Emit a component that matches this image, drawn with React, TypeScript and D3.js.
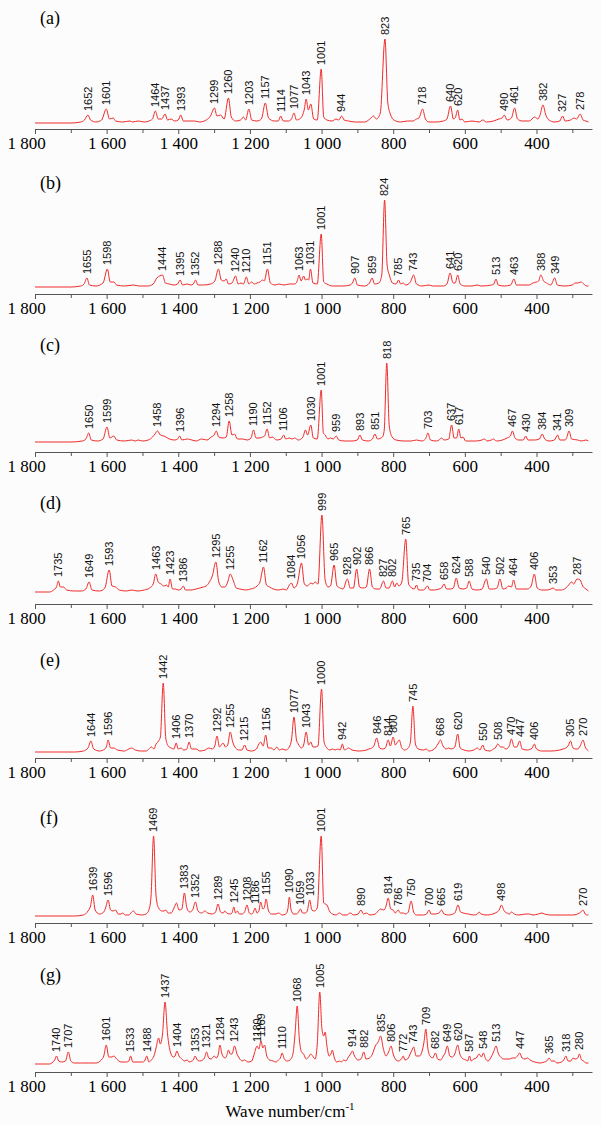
import React, { useRef, useEffect } from 'react';
import * as d3 from 'd3';

// Raman spectra (a)–(g): [wave number, relative intensity]
const specA: [number, number][] = [
  [1800,0],[1700,0],[1672,1],[1662,3],[1652,8],[1645,3],[1630,1],[1614,3],[1601,14],[1592,4],[1582,5],[1575,2],[1555,1],[1535,2],[1528,1],[1512,2],[1495,1],[1482,2],[1472,4],[1464,12],[1456,4],[1446,4],[1437,9],[1430,3],[1420,4],[1410,2],[1400,3],[1393,8],[1386,2],[1370,2],[1355,2],[1340,1],[1322,3],[1310,7],[1299,15],[1292,7],[1282,8],[1272,4],[1260,25],[1252,6],[1240,2],[1226,3],[1218,6],[1212,3],[1203,14],[1195,3],[1180,2],[1168,4],[1157,20],[1148,5],[1132,2],[1121,2],[1114,7],[1107,2],[1092,2],[1084,4],[1077,10],[1070,3],[1058,5],[1048,14],[1043,24],[1037,13],[1030,19],[1022,4],[1012,3],[1001,54],[994,6],[985,3],[970,2],[960,4],[952,3],[944,7],[937,3],[925,2],[905,1],[880,1],[865,4],[855,7],[847,4],[836,10],[823,84],[815,20],[808,9],[798,3],[780,1],[760,2],[745,2],[735,4],[728,5],[718,14],[710,4],[700,1],[680,1],[660,2],[650,4],[640,17],[632,4],[627,5],[620,13],[614,3],[608,4],[600,1],[580,2],[560,1],[550,3],[540,1],[520,2],[505,4],[496,5],[490,8],[482,3],[470,5],[461,15],[453,4],[440,2],[420,2],[405,6],[396,4],[390,8],[382,18],[374,8],[365,3],[350,1],[335,2],[327,7],[320,2],[305,3],[295,5],[288,4],[278,9],[270,3],[262,2],[255,1],
];
const specB: [number, number][] = [
  [1800,0],[1700,0],[1672,1],[1663,3],[1655,9],[1648,2],[1630,1],[1610,4],[1598,18],[1590,5],[1580,5],[1572,2],[1550,1],[1525,2],[1510,1],[1485,1],[1470,3],[1460,9],[1452,11],[1444,12],[1436,4],[1425,3],[1412,2],[1402,3],[1395,7],[1388,2],[1375,3],[1365,2],[1358,3],[1352,7],[1345,2],[1330,2],[1310,3],[1298,6],[1288,18],[1280,7],[1272,6],[1266,8],[1260,3],[1250,4],[1240,11],[1233,3],[1225,4],[1218,3],[1210,10],[1203,3],[1195,5],[1188,3],[1180,4],[1172,5],[1165,7],[1160,6],[1151,18],[1143,4],[1130,2],[1120,3],[1105,2],[1090,3],[1075,3],[1068,6],[1063,12],[1057,6],[1050,11],[1045,7],[1040,8],[1036,7],[1031,18],[1024,4],[1012,3],[1001,53],[994,5],[985,3],[970,1],[940,1],[920,2],[914,4],[907,9],[900,2],[880,1],[866,4],[859,9],[852,3],[840,4],[832,12],[824,87],[817,22],[810,11],[802,4],[792,3],[785,7],[779,3],[773,4],[765,2],[752,5],[743,12],[735,3],[720,1],[700,2],[690,1],[660,1],[650,3],[641,14],[633,4],[627,4],[620,12],[613,3],[600,1],[580,1],[565,2],[555,1],[525,2],[519,3],[513,8],[507,2],[490,1],[472,2],[463,8],[456,2],[440,2],[420,2],[410,4],[400,5],[394,6],[388,12],[380,6],[372,4],[360,2],[349,9],[342,2],[320,1],[300,2],[292,4],[285,4],[275,5],[268,3],[260,1],[255,1],
];
const specC: [number, number][] = [
  [1800,0],[1700,0],[1668,1],[1658,3],[1650,9],[1643,2],[1625,1],[1610,3],[1599,15],[1591,4],[1580,6],[1572,2],[1550,1],[1530,2],[1520,1],[1512,2],[1500,1],[1484,2],[1472,5],[1465,8],[1458,11],[1450,7],[1440,6],[1425,3],[1410,2],[1402,3],[1396,6],[1390,2],[1375,3],[1362,2],[1350,1],[1335,3],[1320,2],[1308,5],[1300,7],[1294,11],[1287,5],[1275,4],[1266,5],[1258,21],[1250,7],[1243,8],[1235,3],[1220,3],[1208,2],[1197,4],[1190,12],[1183,4],[1172,4],[1165,5],[1159,6],[1152,13],[1145,4],[1138,5],[1125,2],[1113,3],[1106,7],[1100,3],[1090,4],[1082,3],[1075,4],[1065,2],[1052,5],[1045,12],[1039,7],[1030,17],[1023,4],[1012,3],[1001,52],[995,9],[990,7],[982,3],[975,4],[967,3],[959,6],[952,2],[935,1],[915,1],[900,2],[893,7],[886,2],[870,1],[858,3],[851,8],[844,3],[830,5],[825,12],[818,79],[811,16],[803,5],[792,2],[770,1],[750,1],[735,2],[720,1],[710,3],[703,9],[696,2],[680,1],[672,2],[665,4],[658,2],[645,3],[637,17],[630,4],[623,4],[617,13],[611,4],[605,5],[598,1],[570,1],[552,2],[545,3],[538,1],[526,2],[520,3],[512,1],[495,2],[482,4],[473,6],[467,11],[460,4],[450,2],[437,2],[430,6],[424,2],[405,2],[392,3],[384,8],[377,3],[365,1],[350,2],[341,7],[335,2],[320,2],[316,4],[309,11],[302,3],[285,2],[275,1],[262,2],[255,1],
];
const specD: [number, number][] = [
  [1800,0],[1760,0],[1748,2],[1740,5],[1735,11],[1729,5],[1720,5],[1712,2],[1690,1],[1670,1],[1658,3],[1649,10],[1641,2],[1620,1],[1605,4],[1593,22],[1585,6],[1575,5],[1565,2],[1545,1],[1530,2],[1515,1],[1495,2],[1480,4],[1470,8],[1463,18],[1456,10],[1448,8],[1440,6],[1433,7],[1428,5],[1423,13],[1416,3],[1408,3],[1400,2],[1392,3],[1386,6],[1380,2],[1365,2],[1350,3],[1340,4],[1330,5],[1322,6],[1313,10],[1305,16],[1295,30],[1287,10],[1278,5],[1270,5],[1262,10],[1255,18],[1247,12],[1238,4],[1228,3],[1210,2],[1198,3],[1188,4],[1180,6],[1172,10],[1162,25],[1154,7],[1145,5],[1135,3],[1120,2],[1108,3],[1098,2],[1090,7],[1084,9],[1077,4],[1068,8],[1056,29],[1048,8],[1040,6],[1030,9],[1024,8],[1018,10],[1010,8],[999,77],[990,12],[982,5],[975,6],[965,27],[957,6],[948,4],[940,3],[928,13],[920,4],[911,4],[902,23],[894,5],[885,4],[875,5],[866,23],[858,5],[848,3],[838,3],[827,11],[820,4],[812,4],[802,11],[796,5],[790,9],[784,6],[776,10],[765,53],[757,8],[748,4],[741,3],[735,7],[729,2],[715,2],[704,6],[698,2],[685,2],[672,3],[665,4],[658,8],[651,3],[640,3],[632,4],[624,14],[616,4],[605,3],[595,4],[588,11],[580,3],[566,2],[552,3],[540,13],[532,3],[520,3],[510,4],[502,13],[494,3],[484,4],[478,6],[470,5],[464,12],[456,3],[440,3],[425,3],[415,6],[406,18],[398,4],[385,2],[370,2],[360,3],[353,4],[346,2],[330,2],[318,4],[310,7],[302,10],[296,8],[287,13],[278,12],[271,6],[262,3],[255,1],
];
const specE: [number, number][] = [
  [1800,0],[1690,0],[1665,1],[1652,4],[1644,11],[1636,3],[1620,1],[1605,3],[1600,6],[1596,12],[1589,4],[1580,4],[1570,2],[1550,1],[1538,3],[1530,4],[1520,2],[1505,1],[1490,1],[1482,3],[1475,5],[1468,3],[1462,8],[1455,11],[1450,15],[1442,69],[1435,14],[1428,6],[1420,4],[1412,3],[1406,9],[1400,3],[1392,4],[1385,2],[1376,3],[1370,10],[1363,3],[1350,3],[1340,1],[1325,2],[1315,4],[1305,3],[1298,6],[1292,16],[1285,5],[1280,7],[1275,9],[1268,5],[1262,7],[1255,20],[1248,10],[1240,4],[1230,2],[1222,2],[1215,7],[1208,2],[1195,1],[1182,3],[1175,8],[1170,10],[1163,6],[1156,17],[1149,4],[1140,4],[1133,2],[1125,5],[1118,2],[1110,3],[1100,2],[1090,5],[1084,12],[1077,35],[1070,12],[1065,8],[1056,4],[1050,7],[1043,20],[1036,7],[1030,10],[1024,5],[1018,5],[1010,6],[1000,63],[993,10],[985,4],[977,2],[970,3],[962,2],[955,3],[948,2],[942,8],[936,2],[930,3],[925,4],[915,2],[895,1],[875,2],[868,3],[860,4],[854,6],[846,14],[838,4],[830,3],[822,4],[814,12],[808,6],[800,15],[794,7],[788,10],[783,12],[776,4],[768,2],[758,4],[752,10],[745,46],[738,8],[730,3],[715,2],[708,3],[700,1],[685,3],[675,8],[668,12],[661,6],[652,3],[645,4],[638,3],[628,5],[620,18],[613,4],[602,2],[590,1],[575,2],[565,4],[558,2],[550,7],[544,2],[530,1],[520,3],[515,4],[508,8],[500,5],[494,5],[485,3],[476,6],[470,13],[462,5],[455,5],[447,11],[440,3],[425,2],[412,4],[406,8],[400,3],[385,1],[360,1],[335,2],[326,3],[318,4],[312,6],[305,11],[298,4],[290,3],[285,3],[278,6],[270,12],[264,5],[258,2],[255,1],
];
const specF: [number, number][] = [
  [1800,0],[1690,0],[1665,1],[1652,5],[1645,10],[1639,21],[1632,6],[1620,2],[1608,4],[1603,8],[1596,16],[1589,6],[1582,5],[1575,6],[1568,2],[1560,2],[1555,3],[1548,1],[1538,1],[1530,4],[1525,5],[1518,2],[1500,1],[1490,2],[1482,6],[1476,20],[1469,80],[1462,20],[1455,8],[1445,5],[1440,5],[1435,6],[1428,3],[1420,3],[1412,8],[1405,13],[1398,6],[1390,7],[1383,23],[1376,8],[1368,4],[1360,6],[1352,14],[1345,5],[1335,3],[1325,5],[1318,3],[1305,2],[1296,4],[1289,12],[1282,4],[1275,3],[1270,5],[1265,3],[1255,2],[1250,3],[1245,9],[1240,3],[1235,5],[1230,2],[1222,2],[1215,4],[1208,11],[1202,3],[1195,2],[1190,4],[1186,8],[1180,3],[1175,5],[1170,14],[1164,7],[1160,8],[1155,17],[1148,5],[1140,2],[1128,2],[1120,3],[1110,1],[1100,2],[1094,7],[1090,19],[1085,6],[1078,2],[1070,2],[1064,4],[1059,7],[1053,3],[1045,3],[1040,5],[1033,16],[1027,6],[1020,5],[1012,8],[1001,80],[994,13],[985,11],[978,5],[970,2],[960,1],[950,3],[940,1],[930,1],[920,3],[910,1],[898,2],[890,6],[883,2],[875,3],[865,1],[850,2],[842,5],[835,7],[826,6],[820,10],[814,18],[807,7],[800,6],[794,3],[786,6],[780,3],[772,3],[765,2],[758,4],[750,15],[743,4],[735,1],[715,1],[707,2],[700,6],[694,2],[685,2],[672,3],[665,6],[658,2],[645,1],[628,3],[619,11],[612,4],[605,3],[590,2],[575,1],[565,2],[560,4],[555,2],[540,1],[522,2],[510,4],[504,6],[498,11],[490,5],[482,3],[475,2],[470,4],[462,2],[450,1],[430,2],[420,2],[410,1],[395,2],[385,3],[378,2],[360,1],[330,1],[315,1],[300,1],[285,2],[276,4],[270,6],[264,2],[258,1],[255,1],
];
const specG: [number, number][] = [
  [1800,0],[1760,0],[1750,2],[1745,4],[1740,8],[1734,3],[1725,2],[1715,3],[1707,12],[1700,3],[1690,1],[1670,1],[1650,1],[1630,1],[1615,4],[1608,8],[1601,19],[1594,7],[1585,7],[1580,8],[1572,5],[1560,2],[1545,2],[1538,3],[1533,8],[1527,2],[1515,2],[1500,2],[1494,3],[1488,8],[1482,2],[1475,4],[1468,8],[1462,16],[1455,26],[1450,20],[1444,30],[1437,62],[1430,30],[1422,12],[1414,7],[1409,8],[1404,13],[1398,8],[1390,5],[1382,3],[1375,4],[1370,2],[1362,3],[1358,4],[1353,8],[1347,4],[1340,3],[1332,4],[1327,6],[1321,12],[1315,6],[1308,5],[1300,8],[1294,6],[1288,10],[1284,19],[1278,10],[1270,6],[1265,8],[1260,14],[1255,10],[1250,10],[1243,18],[1236,10],[1228,5],[1222,3],[1215,4],[1205,2],[1195,3],[1188,10],[1180,18],[1175,15],[1169,23],[1164,16],[1159,19],[1153,8],[1145,4],[1135,3],[1127,2],[1120,4],[1115,6],[1110,11],[1104,5],[1096,3],[1088,4],[1080,10],[1074,30],[1068,58],[1062,25],[1056,12],[1050,10],[1043,5],[1036,7],[1030,10],[1025,8],[1018,5],[1012,20],[1005,72],[999,35],[994,28],[990,32],[985,18],[979,8],[974,10],[970,14],[965,7],[958,2],[950,3],[945,2],[938,4],[932,3],[925,7],[919,10],[914,13],[908,8],[898,4],[890,5],[882,12],[876,5],[866,6],[858,10],[850,18],[842,22],[835,28],[828,16],[820,8],[813,12],[806,18],[800,10],[792,4],[785,3],[777,5],[772,8],[767,4],[760,5],[750,12],[743,17],[736,8],[727,8],[720,12],[714,22],[709,35],[703,15],[697,8],[690,6],[682,11],[676,5],[668,4],[660,8],[655,11],[649,18],[642,8],[635,7],[628,10],[620,19],[614,10],[608,6],[604,5],[597,4],[592,3],[587,8],[582,3],[575,5],[568,6],[560,10],[554,7],[548,11],[542,5],[535,3],[528,6],[520,12],[513,18],[506,10],[500,7],[492,5],[483,5],[475,5],[468,6],[460,6],[453,8],[447,11],[440,6],[432,5],[425,6],[418,4],[405,2],[390,1],[378,2],[371,3],[365,6],[358,3],[350,3],[343,1],[330,2],[324,4],[318,8],[312,3],[304,3],[298,6],[292,5],[285,6],[280,10],[274,4],[268,3],[262,1],[255,1],
];

// peak labels
const labelsA = [1652,1601,1464,1437,1393,1299,1260,1203,1157,1114,1077,1043,1001,944,823,718,640,620,490,461,382,327,278];
const labelsB = [1655,1598,1444,1395,1352,1288,1240,1210,1151,1063,1031,1001,907,859,824,785,743,641,620,513,463,388,349];
const labelsC = [1650,1599,1458,1396,1294,1258,1190,1152,1106,1030,1001,959,893,851,818,703,637,617,467,430,384,341,309];
const labelsD = [1735,1649,1593,1463,1423,1386,1295,1255,1162,1084,1056,999,965,928,902,866,827,802,765,735,704,658,624,588,540,502,464,406,353,287];
const labelsE = [1644,1596,1442,1406,1370,1292,1255,1215,1156,1077,1043,1000,942,846,814,800,745,668,620,550,508,470,447,406,305,270];
const labelsF = [1639,1596,1469,1383,1352,1289,1245,1208,1186,1155,1090,1059,1033,1001,890,814,786,750,700,665,619,498,270];
const labelsG = [1740,1707,1601,1533,1488,1437,1404,1353,1321,1284,1243,1180,1169,1110,1068,1005,914,882,835,806,772,743,709,682,649,620,587,548,513,447,365,318,280];

const panelNames = ['(a)', '(b)', '(c)', '(d)', '(e)', '(f)', '(g)'];
const tickValues = [1800,1700,1600,1500,1400,1300,1200,1100,1000,900,800,700,600,500,400,300];

// layout (pixels)
const axisYs = [129, 294, 452, 604, 758, 923, 1072];
const baseYs = [123, 287, 442, 592, 752, 916, 1064];
const nameYs = [18, 183, 345, 503, 660, 818, 975];

const W = 601;
const H = 1125;
const RED = '#f02a2a';
const serif = '"Liberation Serif", "Times New Roman", Times, "DejaVu Serif", serif';
const sans = '"Liberation Sans", Arial, Helvetica, sans-serif';

const x = d3.scaleLinear().domain([1800, 245]).range([35, 592]);

const fmt = (d: number) =>
  d >= 1000 ? `${Math.floor(d / 1000)} ${String(d % 1000).padStart(3, '0')}` : String(d);

function Panel({ spec, labels, name, axisY, baseY, nameY }: any) {
  const axisRef = useRef<SVGGElement>(null);
  const y = d3.scaleLinear().domain([0, 100]).range([baseY, baseY - 100]);
  const data = [...spec].sort((a, b) => b[0] - a[0]);
  const line = d3.line<[number, number]>()
    .x(d => x(d[0]))
    .y(d => y(d[1]))
    .curve(d3.curveMonotoneX);

  const peakAt = (wn: number) => {
    const hit = data.filter(d => Math.abs(d[0] - wn) <= 3);
    return hit.length ? (d3.max(hit, d => d[1]) as number) : 0;
  };

  useEffect(() => {
    if (!axisRef.current) return;
    const g = d3.select(axisRef.current);
    g.selectAll('*').remove();
    g.call(
      d3.axisBottom(x)
        .tickValues(tickValues)
        .tickSize(5)
        .tickSizeOuter(0)
        .tickFormat(d => (+d % 200 === 0 ? fmt(+d) : '')) as any
    );
    g.attr('font-family', null).attr('font-size', null);
    g.select('.domain').attr('stroke', '#555');
    g.selectAll('.tick line')
      .attr('stroke', '#555')
      .attr('y2', (d: any) => (d % 200 === 0 ? 5 : 4));
    g.selectAll('.tick text')
      .style('font-family', serif)
      .style('font-size', '17px')
      .attr('fill', '#000')
      .attr('dx', (d: any) => (d === 1800 ? -9 : 0));
  }, [axisY]);

  return (
    <g>
      <text x={40} y={nameY} dy="0.35em" style={{ fontFamily: serif, fontSize: 18 }} fill="#000">{name}</text>
      <path d={line(data) || ''} fill="none" stroke={RED} strokeWidth={1} />
      {labels.map((wn: number) => (
        <text
          key={wn}
          transform={`translate(${x(wn)},${y(peakAt(wn)) - 4}) rotate(-90)`}
          dy="0.35em"
          style={{ fontFamily: sans, fontSize: 11 }}
          fill="#111"
        >
          {wn}
        </text>
      ))}
      <g ref={axisRef} transform={`translate(0,${axisY})`} />
    </g>
  );
}

const panels = [
  { spec: specA, labels: labelsA },
  { spec: specB, labels: labelsB },
  { spec: specC, labels: labelsC },
  { spec: specD, labels: labelsD },
  { spec: specE, labels: labelsE },
  { spec: specF, labels: labelsF },
  { spec: specG, labels: labelsG },
];

export default function App() {
  return (
    <svg width={W} height={H} style={{ position: 'absolute', left: 0, top: 0, background: '#fcfcfc' }}>
      {panels.map((p, i) => (
        <Panel
          key={i}
          spec={p.spec}
          labels={p.labels}
          name={panelNames[i]}
          axisY={axisYs[i]}
          baseY={baseYs[i]}
          nameY={nameYs[i]}
        />
      ))}
      <text x={290} y={1117} textAnchor="middle" style={{ fontFamily: serif, fontSize: 17 }} fill="#000">
        Wave number/cm<tspan dy={-7} style={{ fontSize: 11 }}>-1</tspan>
      </text>
    </svg>
  );
}
